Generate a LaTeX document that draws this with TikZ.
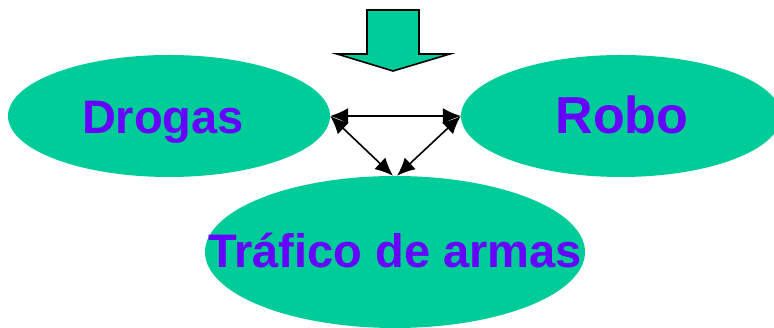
\documentclass[tikz,border=0pt]{standalone}
\usepackage{fontspec}
\setmainfont{Liberation Sans}
\usetikzlibrary{shapes.geometric,arrows.meta,calc}
\definecolor{eggreen}{HTML}{00CC99}
\definecolor{egpurple}{HTML}{6600FF}
\begin{document}
\begin{tikzpicture}[x=1pt,y=1pt,
  blob/.style={ellipse,fill=eggreen,draw=none,inner sep=0pt},
  lbl/.style={text=egpurple,font=\bfseries\fontsize{47}{50}\selectfont,inner sep=0pt,anchor=base},
  link/.style={line width=1.6pt,{Latex[length=18pt,width=16pt]}-{Latex[length=18pt,width=16pt]}}]
\useasboundingbox (0,0) rectangle (774,328);
\node[blob,minimum width=322pt,minimum height=122pt] (dr) at (169,212) {};
\node[blob,minimum width=320pt,minimum height=122pt] (ro) at (621,212) {};
\node[blob,minimum width=380pt,minimum height=152pt] (tr) at (395,76) {};
\node[lbl] (drl) at (163,194) {Drogas};
\node[lbl,font=\bfseries\fontsize{52}{55}\selectfont] (rol) at (622,194) {Robo};
\node[lbl] (trl) at (395,60) {Tráfico de armas};
\filldraw[fill=eggreen,draw=black,line width=1.6pt,line join=miter]
  (367,318) -- (419,318) -- (419,274) -- (450,274) -- (393,257) -- (337,274) -- (367,274) -- cycle;
\draw[link] (dr.east) -- (ro.west);
\draw[link] (dr.east) -- ($(tr.north)+(-2,0)$);
\draw[link] (ro.west) -- ($(tr.north)+(2,0)$);
\end{tikzpicture}
\end{document}
